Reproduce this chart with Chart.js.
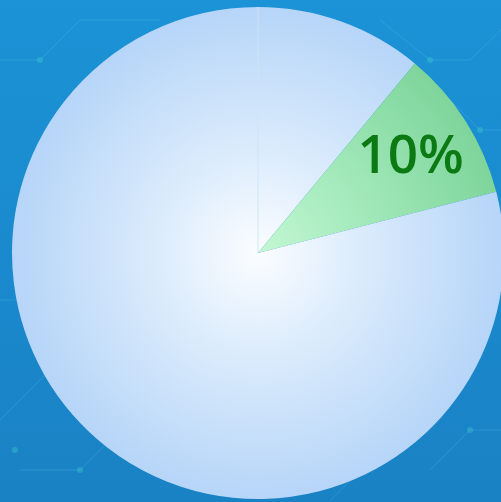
<!DOCTYPE html>
<html>
<head>
<meta charset="utf-8">
<script src="https://cdn.jsdelivr.net/npm/chart.js@4.4.1/dist/chart.umd.min.js"></script>
<style>
  html, body {
    margin: 0;
    padding: 0;
    width: 501px;
    height: 502px;
    overflow: hidden;
  }
  body {
    background-color: #1a8ccf;
    background-image:
      url("data:image/svg+xml;utf8,<svg xmlns='http://www.w3.org/2000/svg' width='501' height='502'><g stroke='%2359c2ec' stroke-opacity='0.25' stroke-width='1' fill='none'><path d='M0 60 L40 60 L80 20 L160 20'/><path d='M30 200 L90 140 L90 90'/><path d='M0 420 L60 360 L110 360'/><path d='M20 470 L80 470 L120 430'/><path d='M380 20 L430 60 L470 60 L501 30'/><path d='M440 90 L480 130 L501 130'/><path d='M430 470 L470 430 L501 430'/><path d='M330 501 L370 460'/><path d='M0 300 L30 300'/></g><g fill='%2340d0c8' fill-opacity='0.35'><circle cx='40' cy='60' r='3'/><circle cx='90' cy='140' r='3'/><circle cx='60' cy='360' r='3'/><circle cx='80' cy='470' r='3'/><circle cx='430' cy='60' r='3'/><circle cx='480' cy='130' r='3'/><circle cx='470' cy='430' r='3'/><circle cx='15' cy='450' r='3'/></g></svg>"),
      linear-gradient(180deg, #1b93d6 0%, #1a88cc 60%, #1982c4 100%);
  }
  #wrap {
    position: absolute;
    left: 0;
    top: 0;
    width: 510px;
    height: 510px;
  }
</style>
</head>
<body>
<div id="wrap"><canvas id="pie"></canvas></div>
<script>
// share of the whole, in percent, going clockwise from 12 o'clock
const labels = ["", "10%", ""];
const shares = [11, 10, 79];
const labelShown = [false, true, false];

// radial fills: [centre, middle, rim]
const fills = [
  ["#fbfdff", "#dcecfc", "#b6d5f8"],
  ["#c4f7d3", "#a6ebbd", "#7ed59b"],
  ["#fbfdff", "#dcecfc", "#b6d5f8"],
];

let radialFill = function(ctx) {
  const stops = fills[ctx.dataIndex] || fills[0];
  const area = ctx.chart.chartArea;
  if (!area) {
    return stops[2];
  }
  const cx = (area.left + area.right) / 2;
  const cy = (area.top + area.bottom) / 2;
  const r = Math.min(area.right - area.left, area.bottom - area.top) / 2;
  const g = ctx.chart.ctx.createRadialGradient(cx, cy, 0, cx, cy, r);
  g.addColorStop(0, stops[0]);
  g.addColorStop(0.4, stops[1]);
  g.addColorStop(1, stops[2]);
  return g;
};

// faint seam at 12 o'clock plus the percentage inside its slice
const sliceLabels = {
  id: 'sliceLabels',
  afterDatasetsDraw(chart) {
    const ctx = chart.ctx;
    const arcs = chart.getDatasetMeta(0).data;
    ctx.save();

    const first = arcs[0].getProps(['x', 'y', 'startAngle', 'outerRadius'], true);
    ctx.strokeStyle = 'rgba(205,228,246,0.9)';
    ctx.lineWidth = 1;
    ctx.beginPath();
    ctx.moveTo(first.x, first.y);
    ctx.lineTo(first.x + Math.cos(first.startAngle) * first.outerRadius,
               first.y + Math.sin(first.startAngle) * first.outerRadius);
    ctx.stroke();

    ctx.font = '600 53px "Open Sans", Lato, sans-serif';
    ctx.fillStyle = '#0b7a12';
    ctx.textAlign = 'center';
    ctx.textBaseline = 'middle';
    arcs.forEach((arc, i) => {
      if (!labelShown[i]) return;
      const p = arc.getProps(['x', 'y', 'startAngle', 'endAngle', 'outerRadius'], true);
      const mid = (p.startAngle + p.endAngle) / 2;
      const r = p.outerRadius * 0.735;
      ctx.fillText(labels[i], p.x + Math.cos(mid) * r, p.y + Math.sin(mid) * r + 2);
    });
    ctx.restore();
  }
};

const config = {
  type: 'pie',
  data: {
    labels: labels,
    datasets: [{
      data: shares,
      backgroundColor: radialFill,
      borderWidth: 0,
      hoverOffset: 0
    }]
  },
  options: {
    responsive: true,
    maintainAspectRatio: false,
    animation: false,
    layout: {
      padding: { left: 12, right: 6, top: 7, bottom: 11 }
    },
    plugins: {
      legend: { display: false },
      tooltip: { enabled: false }
    }
  },
  plugins: [sliceLabels]
};

const myChart = new Chart(document.getElementById('pie'), config);
</script>
</body>
</html>
